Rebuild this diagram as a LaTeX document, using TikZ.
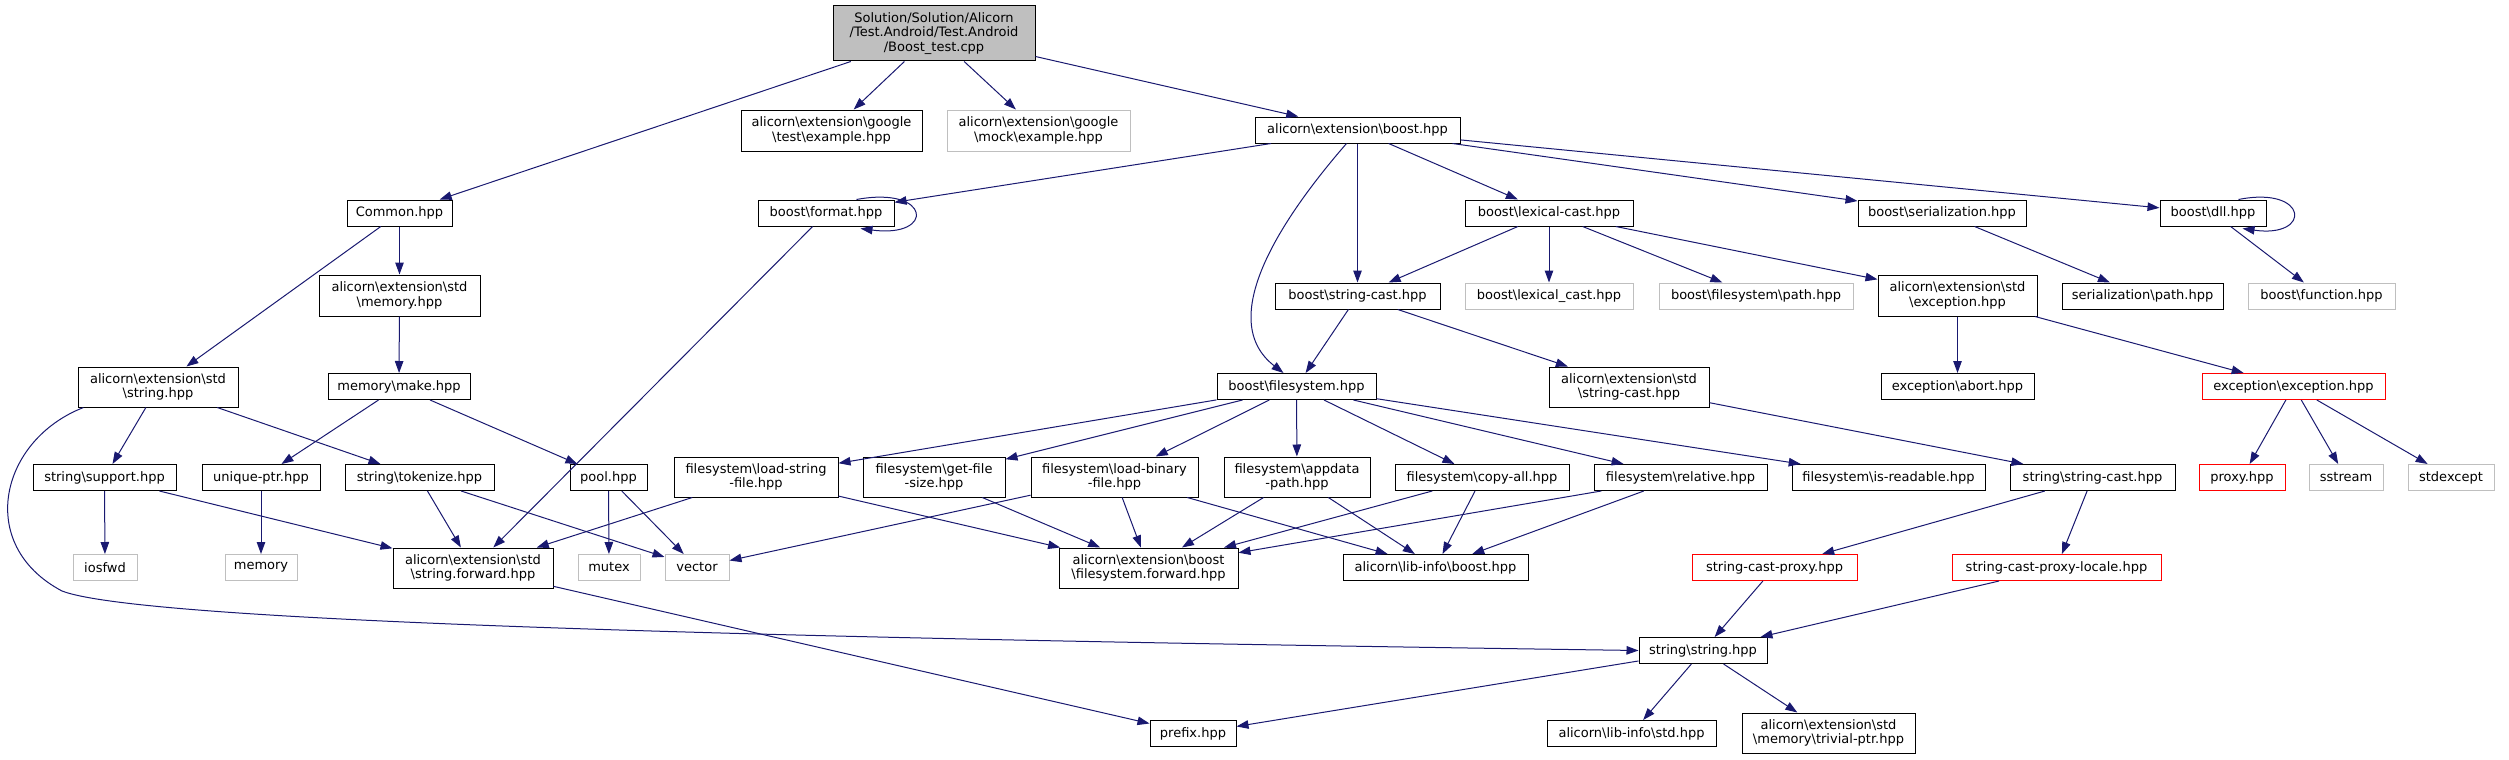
\documentclass[tikz,border=0pt]{standalone}
\usepackage{fontspec}
\setmainfont{DejaVu Sans}
\usepackage{tikz}
\usetikzlibrary{arrows.meta}
\definecolor{midnightblue}{HTML}{191970}
\definecolor{greyline}{HTML}{BFBFBF}
\definecolor{rootfill}{HTML}{BFBFBF}
\newcommand{\bsl}{\textbackslash}

\begin{document}
\begin{tikzpicture}[x=1pt, y=-1pt,
  hdr/.style={draw=black, line width=1pt, rectangle, inner sep=2pt,
    minimum height=26pt, align=center, font=\fontsize{13}{14.7}\selectfont},
  hdrgray/.style={hdr, draw=greyline},
  hdrred/.style={hdr, draw=red},
  dep/.style={midnightblue, line width=1pt, -{Triangle[length=12pt,width=8.5pt]}}]
  \useasboundingbox (0,0) rectangle (2509,760);
  % Source file
  \node[hdr, fill=rootfill, minimum width=202pt, minimum height=55pt] (root) at (934,33.5)
    {Solution/Solution/Alicorn\\/Test.Android/Test.Android\\/Boost\_test.cpp};
  % Row 1
  \node[hdr, minimum width=181pt, minimum height=41pt] (gtest) at (831.5,130.5) {alicorn\bsl extension\bsl google\\\bsl test\bsl example.hpp};
  \node[hdrgray, minimum width=183pt, minimum height=41pt] (gmock) at (1038.5,130.5) {alicorn\bsl extension\bsl google\\\bsl mock\bsl example.hpp};
  \node[hdr, minimum width=205pt] (boosthpp) at (1357.5,130) {alicorn\bsl extension\bsl boost.hpp};
  % Row 2
  \node[hdr, minimum width=105pt] (common) at (399.5,213) {Common.hpp};
  \node[hdr, minimum width=136pt] (fmt) at (826,213) {boost\bsl format.hpp};
  \node[hdr, minimum width=168pt] (lexcast) at (1549,213) {boost\bsl lexical-cast.hpp};
  \node[hdr, minimum width=168pt] (serial) at (1942,213) {boost\bsl serialization.hpp};
  \node[hdr, minimum width=106pt] (dll) at (2213,213) {boost\bsl dll.hpp};
  % Row 3
  \node[hdr, minimum width=161pt, minimum height=41pt] (stdmem) at (399.5,295.5) {alicorn\bsl extension\bsl std\\\bsl memory.hpp};
  \node[hdr, minimum width=165pt] (bstrcast) at (1357.5,296) {boost\bsl string-cast.hpp};
  \node[hdrgray, minimum width=168pt] (lexcastgray) at (1549,296) {boost\bsl lexical\_cast.hpp};
  \node[hdrgray, minimum width=194pt] (fspath) at (1756,296) {boost\bsl filesystem\bsl path.hpp};
  \node[hdr, minimum width=159pt, minimum height=41pt] (stdexc) at (1957.5,295.5) {alicorn\bsl extension\bsl std\\\bsl exception.hpp};
  \node[hdr, minimum width=161pt] (serpath) at (2142.5,296) {serialization\bsl path.hpp};
  \node[hdrgray, minimum width=147pt] (func) at (2321.5,296) {boost\bsl function.hpp};
  % Row 4
  \node[hdr, minimum width=160pt, minimum height=40pt] (stdstr) at (158,387) {alicorn\bsl extension\bsl std\\\bsl string.hpp};
  \node[hdr, minimum width=142pt] (make) at (399,386.5) {memory\bsl make.hpp};
  \node[hdr, minimum width=159pt] (bfs) at (1296.5,386.5) {boost\bsl filesystem.hpp};
  \node[hdr, minimum width=160pt, minimum height=40pt] (stdstrcast) at (1629,387) {alicorn\bsl extension\bsl std\\\bsl string-cast.hpp};
  \node[hdr, minimum width=153pt] (abort) at (1957.5,386.5) {exception\bsl abort.hpp};
  \node[hdrred, minimum width=183pt] (exc) at (2293.5,386.5) {exception\bsl exception.hpp};
  % Row 5
  \node[hdr, minimum width=143pt] (support) at (104.5,477.5) {string\bsl support.hpp};
  \node[hdr, minimum width=118pt] (uniq) at (261,477.5) {unique-ptr.hpp};
  \node[hdr, minimum width=149pt] (tokenize) at (419.5,477.5) {string\bsl tokenize.hpp};
  \node[hdr, minimum width=77pt] (pool) at (608.5,477.5) {pool.hpp};
  \node[hdr, minimum width=164pt, minimum height=40pt] (loadstr) at (756,477) {filesystem\bsl load-string\\-file.hpp};
  \node[hdr, minimum width=142pt, minimum height=40pt] (getsize) at (934,477) {filesystem\bsl get-file\\-size.hpp};
  \node[hdr, minimum width=167pt, minimum height=40pt] (loadbin) at (1114.5,477) {filesystem\bsl load-binary\\-file.hpp};
  \node[hdr, minimum width=146pt, minimum height=40pt] (appdata) at (1297,477) {filesystem\bsl appdata\\-path.hpp};
  \node[hdr, minimum width=174pt] (copyall) at (1482,477.5) {filesystem\bsl copy-all.hpp};
  \node[hdr, minimum width=173pt] (relative) at (1680.5,477.5) {filesystem\bsl relative.hpp};
  \node[hdr, minimum width=193pt] (isread) at (1888.5,477.5) {filesystem\bsl is-readable.hpp};
  \node[hdr, minimum width=165pt] (strcast) at (2092.5,477.5) {string\bsl string-cast.hpp};
  \node[hdrred, minimum width=86pt] (proxy) at (2242,477.5) {proxy.hpp};
  \node[hdrgray, minimum width=74pt] (sstream) at (2346,477.5) {sstream};
  \node[hdrgray, minimum width=86pt] (stdexcept) at (2451,477.5) {stdexcept};
  % Row 6
  \node[hdrgray, minimum width=64pt] (iosfwd) at (105,567.5) {iosfwd};
  \node[hdrgray, minimum width=72pt] (memory) at (261,567.5) {memory};
  \node[hdr, minimum width=160pt, minimum height=40pt] (strfwd) at (473,568) {alicorn\bsl extension\bsl std\\\bsl string.forward.hpp};
  \node[hdrgray, minimum width=62pt] (mutex) at (609,567.5) {mutex};
  \node[hdrgray, minimum width=64pt] (vector) at (697,567.5) {vector};
  \node[hdr, minimum width=179pt, minimum height=40pt] (fsfwd) at (1148.5,568) {alicorn\bsl extension\bsl boost\\\bsl filesystem.forward.hpp};
  \node[hdr, minimum width=185pt] (libboost) at (1435.5,567.5) {alicorn\bsl lib-info\bsl boost.hpp};
  \node[hdrred, minimum width=165pt] (castproxy) at (1774.5,567.5) {string-cast-proxy.hpp};
  \node[hdrred, minimum width=209pt] (castlocale) at (2056.5,567.5) {string-cast-proxy-locale.hpp};
  % Row 7
  \node[hdr, minimum width=128pt] (strstr) at (1703,650.5) {string\bsl string.hpp};
  % Row 8
  \node[hdr, minimum width=86pt] (prefix) at (1193,733.5) {prefix.hpp};
  \node[hdr, minimum width=169pt] (libstd) at (1631.5,733.5) {alicorn\bsl lib-info\bsl std.hpp};
  \node[hdr, minimum width=173pt, minimum height=40pt] (trivial) at (1828.5,733) {alicorn\bsl extension\bsl std\\\bsl memory\bsl trivial-ptr.hpp};

  % Includes of the source file
  \draw[dep] (root) -- (common);
  \draw[dep] (root) -- (gtest);
  \draw[dep] (root) -- (gmock);
  \draw[dep] (root) -- (boosthpp);
  % alicorn\extension\boost.hpp
  \draw[dep] (boosthpp) -- (fmt);
  \draw[dep] ([xshift=-11pt]boosthpp.south) .. controls (1280,220) and (1215,320) .. ([xshift=-13pt]bfs.north);
  \draw[dep] (boosthpp) -- (bstrcast);
  \draw[dep] (boosthpp) -- (lexcast);
  \draw[dep] (boosthpp) -- (serial);
  \draw[dep] (boosthpp) -- (dll);
  % Self loops
  \draw[dep] ([xshift=-38pt]fmt.north east) .. controls +(75,-14) and +(75,10) .. ([xshift=-34pt,yshift=-2pt]fmt.south east);
  \draw[dep] ([xshift=-28pt]dll.north east) .. controls +(70,-14) and +(70,10) .. ([xshift=-24pt,yshift=-2pt]dll.south east);
  \draw[dep] (fmt) -- (strfwd);
  % Common.hpp
  \draw[dep] (common) -- (stdmem);
  \draw[dep] (common) -- (stdstr);
  \draw[dep] (stdmem) -- (make);
  \draw[dep] (make) -- (uniq);
  \draw[dep] (make) -- (pool);
  % alicorn\extension\std\string.hpp
  \draw[dep] (stdstr) -- (support);
  \draw[dep] (stdstr) -- (tokenize);
  \draw[dep] ([xshift=6pt]stdstr.south west) .. controls (0,440) and (-25,545) .. (62,591)
    .. controls (150,625) and (900,640) .. (strstr.west);
  \draw[dep] (support) -- (iosfwd);
  \draw[dep] (support) -- (strfwd);
  \draw[dep] (uniq) -- (memory);
  \draw[dep] (tokenize) -- (strfwd);
  \draw[dep] (tokenize) -- (vector);
  \draw[dep] (pool) -- (mutex);
  \draw[dep] (pool) -- (vector);
  % boost\lexical-cast.hpp
  \draw[dep] (lexcast) -- (bstrcast);
  \draw[dep] (lexcast) -- (lexcastgray);
  \draw[dep] (lexcast) -- (fspath);
  \draw[dep] (lexcast) -- (stdexc);
  \draw[dep] (serial) -- (serpath);
  \draw[dep] (dll) -- (func);
  \draw[dep] (bstrcast) -- (bfs);
  \draw[dep] (bstrcast) -- (stdstrcast);
  \draw[dep] (stdexc) -- (abort);
  \draw[dep] (stdexc) -- (exc);
  \draw[dep] (exc) -- (proxy);
  \draw[dep] (exc) -- (sstream);
  \draw[dep] (exc) -- (stdexcept);
  % boost\filesystem.hpp
  \draw[dep] (bfs) -- (loadstr);
  \draw[dep] (bfs) -- (getsize);
  \draw[dep] (bfs) -- (loadbin);
  \draw[dep] (bfs) -- (appdata);
  \draw[dep] (bfs) -- (copyall);
  \draw[dep] (bfs) -- (relative);
  \draw[dep] (bfs) -- (isread);
  \draw[dep] (loadstr) -- (strfwd);
  \draw[dep] (loadstr) -- (fsfwd);
  \draw[dep] (getsize) -- (fsfwd);
  \draw[dep] (loadbin) -- (vector);
  \draw[dep] (loadbin) -- (fsfwd);
  \draw[dep] (loadbin) -- (libboost);
  \draw[dep] (appdata) -- (fsfwd);
  \draw[dep] (appdata) -- (libboost);
  \draw[dep] (copyall) -- (fsfwd);
  \draw[dep] (copyall) -- (libboost);
  \draw[dep] (relative) -- (fsfwd);
  \draw[dep] (relative) -- (libboost);
  % String casts
  \draw[dep] (stdstrcast) -- (strcast);
  \draw[dep] (strcast) -- (castproxy);
  \draw[dep] (strcast) -- (castlocale);
  \draw[dep] (castproxy) -- (strstr);
  \draw[dep] (castlocale) -- (strstr);
  % string\string.hpp
  \draw[dep] (strstr) -- (prefix);
  \draw[dep] (strstr) -- (libstd);
  \draw[dep] (strstr) -- (trivial);
  \draw[dep] (strfwd) -- (prefix);
\end{tikzpicture}
\end{document}
